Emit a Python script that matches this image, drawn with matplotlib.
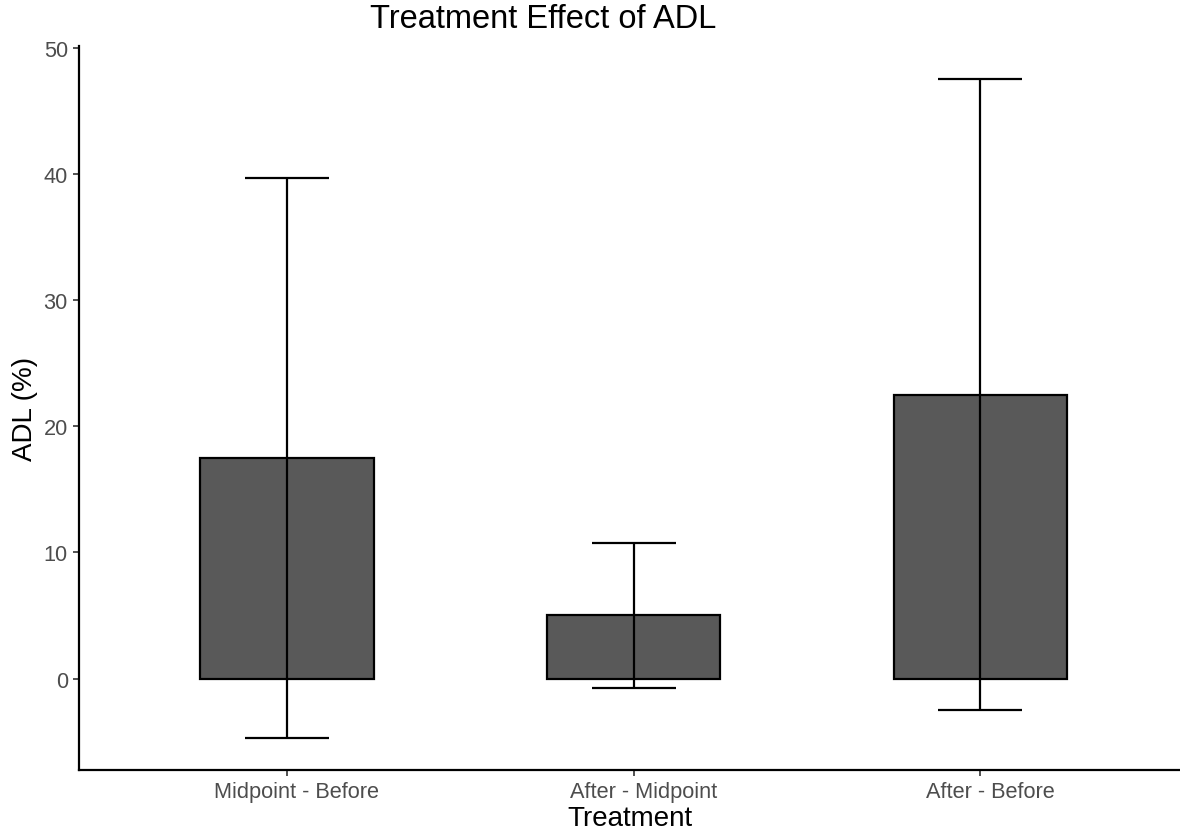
import numpy as np
import matplotlib.pyplot as plt
import matplotlib.transforms as mtransforms

plt.rcParams['font.family'] = ['Liberation Sans', 'DejaVu Sans']

# data
treatments = ['Midpoint - Before', 'After - Midpoint', 'After - Before']
adl_mean = [17.5, 5.0, 22.5]
adl_err = [22.2, 5.75, 25.0]

fig = plt.figure(figsize=(11.8, 8.37), dpi=100)
ax = fig.add_axes([79/1180, 66/837, 1 - 79/1180, (771-47)/837])

x = np.arange(1, len(treatments) + 1)
ax.bar(x, adl_mean, width=0.5, color='#595959', edgecolor='black', linewidth=1.6, zorder=2)
ax.errorbar(x, adl_mean, yerr=adl_err, fmt='none', ecolor='black',
            elinewidth=1.6, capsize=30.5, capthick=1.6, zorder=3)

ax.set_xlim(0.4, 0.4 + 1101/346.6)
ax.set_ylim(-7.25, 50.15)
ax.set_yticks([0, 10, 20, 30, 40, 50])
ax.set_xticks(x)
ax.set_xticklabels(treatments)

for s in ['top', 'right']:
    ax.spines[s].set_visible(False)
for s in ['left', 'bottom']:
    ax.spines[s].set_linewidth(1.6)
ax.tick_params(axis='both', length=4, width=1.2, color='#333333',
               labelcolor='#4D4D4D', labelsize=15.7, pad=4)

# labels in the reference sit a little right of their ticks
shift = mtransforms.ScaledTranslation(10/100, 0, fig.dpi_scale_trans)
for lab in ax.get_xticklabels():
    lab.set_transform(lab.get_transform() + shift)

ax.set_xlabel('Treatment', fontsize=20, labelpad=2)
ax.set_ylabel('ADL (%)', fontsize=20, labelpad=4)
fig.text(543/1180, 1 - 19/837, 'Treatment Effect of ADL', fontsize=23.5,
         ha='center', va='center')

fig.savefig('out.png', dpi=100)
